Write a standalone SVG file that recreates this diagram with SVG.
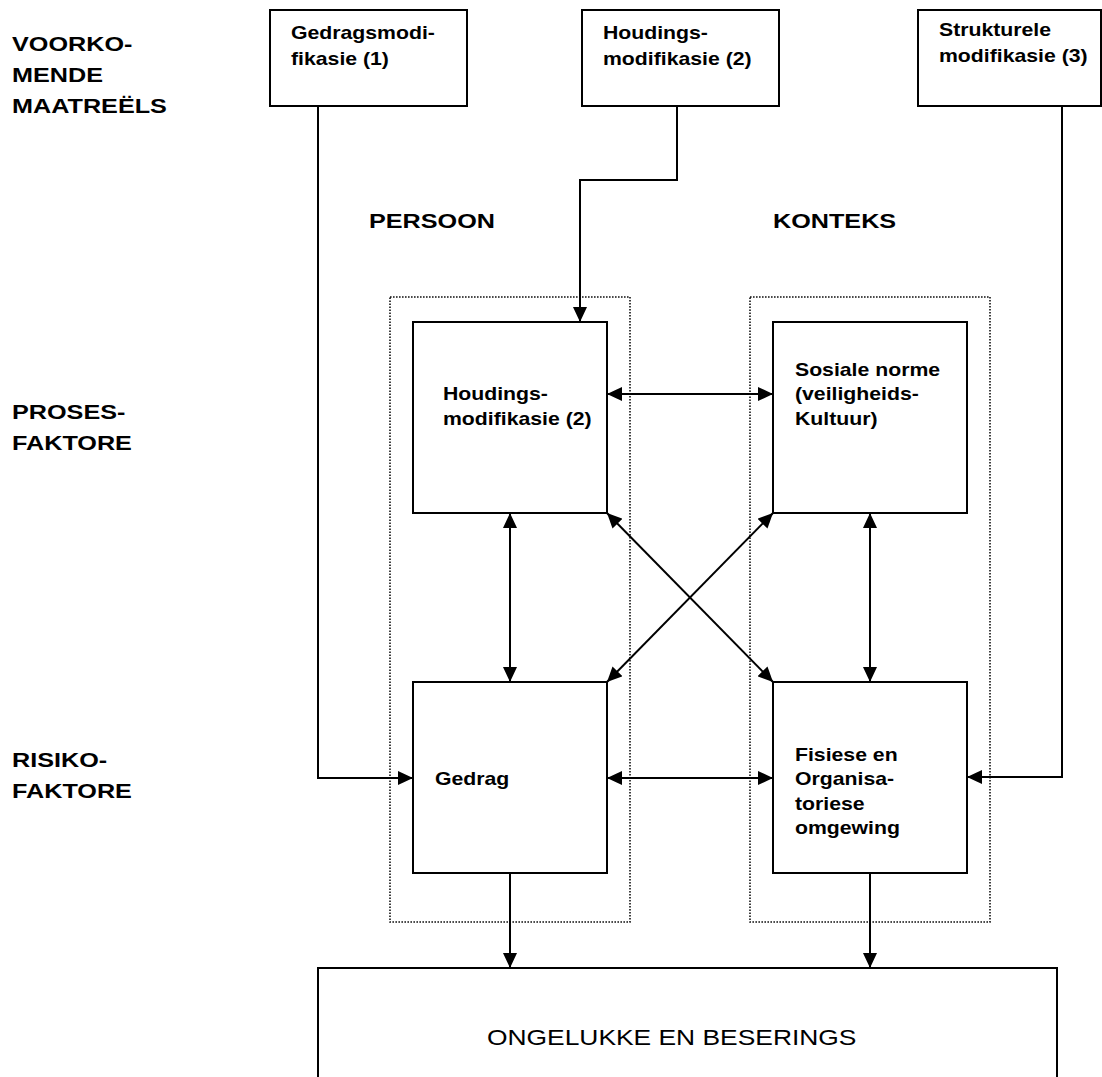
<svg xmlns="http://www.w3.org/2000/svg" width="1102" height="1077" viewBox="0 0 1102 1077">
<defs>
<marker id="ah" viewBox="0 0 15 14" refX="15" refY="7" markerWidth="15" markerHeight="14" markerUnits="userSpaceOnUse" orient="auto-start-reverse">
<path d="M0,0 L15,7 L0,14 z" fill="#000"/>
</marker>
<style>
.box{fill:#fff;stroke:#000;stroke-width:2}
.grp{fill:none;stroke:#111;stroke-width:1.6;stroke-dasharray:1.6 1.4}
.lbl{font-family:"Liberation Sans",Arial,sans-serif;font-weight:bold;font-size:21px;fill:#000}
.bt{font-family:"Liberation Sans",Arial,sans-serif;font-weight:bold;font-size:18px;fill:#000}
.big{font-family:"Liberation Sans",Arial,sans-serif;font-size:22px;fill:#000}
.c{fill:none;stroke:#000;stroke-width:2}
</style>
</defs>
<rect width="1102" height="1077" fill="#fff"/>

<g id="labels">
<text class="lbl" transform="translate(12,51) scale(1.2,1)"><tspan x="0" y="0">VOORKO-</tspan><tspan x="0" dy="31">MENDE</tspan><tspan x="0" dy="31">MAATREËLS</tspan></text>
<text class="lbl" transform="translate(12,419) scale(1.2,1)"><tspan x="0" y="0">PROSES-</tspan><tspan x="0" dy="31">FAKTORE</tspan></text>
<text class="lbl" transform="translate(12,767) scale(1.2,1)"><tspan x="0" y="0">RISIKO-</tspan><tspan x="0" dy="31">FAKTORE</tspan></text>
<text class="lbl" transform="translate(369,228) scale(1.2,1)">PERSOON</text>
<text class="lbl" transform="translate(773,228) scale(1.2,1)">KONTEKS</text>
</g>

<g id="group-persoon"><rect class="grp" x="390" y="297" width="240" height="625"/></g>
<g id="group-konteks"><rect class="grp" x="750" y="297" width="240" height="625"/></g>

<g id="connectors">
<path class="c" d="M318,106 V778 H413" marker-end="url(#ah)"/>
<path class="c" d="M677,106 V180 H580 V322" marker-end="url(#ah)"/>
<path class="c" d="M1062,106 V777 H967" marker-end="url(#ah)"/>
<path class="c" d="M607,394 H773" marker-start="url(#ah)" marker-end="url(#ah)"/>
<path class="c" d="M607,778 H773" marker-start="url(#ah)" marker-end="url(#ah)"/>
<path class="c" d="M510,513 V682" marker-start="url(#ah)" marker-end="url(#ah)"/>
<path class="c" d="M870,513 V682" marker-start="url(#ah)" marker-end="url(#ah)"/>
<path class="c" d="M607,513 L773,682" marker-start="url(#ah)" marker-end="url(#ah)"/>
<path class="c" d="M773,513 L607,682" marker-start="url(#ah)" marker-end="url(#ah)"/>
<path class="c" d="M510,873 V968" marker-end="url(#ah)"/>
<path class="c" d="M870,873 V968" marker-end="url(#ah)"/>
</g>

<g id="n-gedragsmod">
<rect class="box" x="270" y="10" width="197" height="96"/>
<text class="bt" transform="translate(291,39) scale(1.18,1)"><tspan x="0" y="0">Gedragsmodi-</tspan><tspan x="0" dy="26">fikasie (1)</tspan></text>
</g>
<g id="n-houdingsmod-top">
<rect class="box" x="582" y="10" width="197" height="96"/>
<text class="bt" transform="translate(603,39) scale(1.18,1)"><tspan x="0" y="0">Houdings-</tspan><tspan x="0" dy="26">modifikasie (2)</tspan></text>
</g>
<g id="n-struktureel">
<rect class="box" x="918" y="10" width="183" height="96"/>
<text class="bt" transform="translate(939,36) scale(1.18,1)"><tspan x="0" y="0">Strukturele</tspan><tspan x="0" dy="26">modifikasie (3)</tspan></text>
</g>

<g id="n-houdings">
<rect class="box" x="413" y="322" width="194" height="191"/>
<text class="bt" transform="translate(443,400) scale(1.18,1)"><tspan x="0" y="0">Houdings-</tspan><tspan x="0" dy="25">modifikasie (2)</tspan></text>
</g>
<g id="n-sosiale">
<rect class="box" x="773" y="322" width="194" height="191"/>
<text class="bt" transform="translate(795,376) scale(1.18,1)"><tspan x="0" y="0">Sosiale norme</tspan><tspan x="0" dy="24.5">(veiligheids-</tspan><tspan x="0" dy="24.5">Kultuur)</tspan></text>
</g>
<g id="n-gedrag">
<rect class="box" x="413" y="682" width="194" height="191"/>
<text class="bt" transform="translate(435,785) scale(1.18,1)">Gedrag</text>
</g>
<g id="n-fisiese">
<rect class="box" x="773" y="682" width="194" height="191"/>
<text class="bt" transform="translate(795,761) scale(1.18,1)"><tspan x="0" y="0">Fisiese en</tspan><tspan x="0" dy="24.5">Organisa-</tspan><tspan x="0" dy="24.5">toriese</tspan><tspan x="0" dy="24.5">omgewing</tspan></text>
</g>

<g id="n-ongelukke">
<rect class="box" x="318" y="968" width="739" height="120"/>
<text class="big" transform="translate(487,1045) scale(1.2,1)">ONGELUKKE EN BESERINGS</text>
</g>
</svg>
